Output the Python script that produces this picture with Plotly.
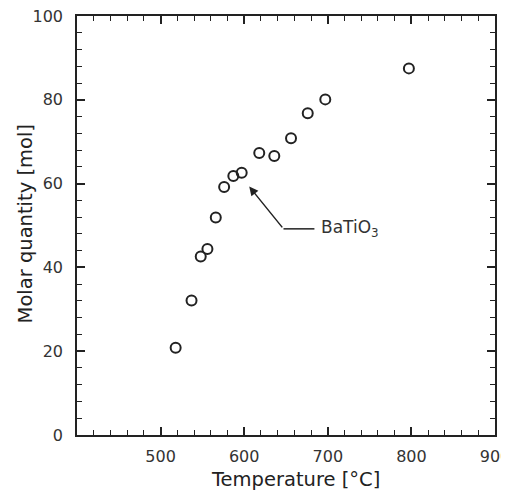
import plotly.graph_objects as go

temperature = [518, 537, 548, 556, 566, 576, 587, 597, 618, 636, 656, 676, 697, 797]
molar_quantity = [20.8, 32.1, 42.6, 44.4, 51.9, 59.2, 61.8, 62.6, 67.3, 66.6, 70.8, 76.8, 80.1, 87.5]
x_ticks = [500, 600, 700, 800, 900]
y_ticks = [0, 20, 40, 60, 80, 100]
x_title = "Temperature [°C]"
y_title = "Molar quantity [mol]"

FONT = "DejaVu Sans"

fig = go.Figure()
fig.add_trace(go.Scatter(
    x=temperature, y=molar_quantity, mode="markers",
    marker=dict(symbol="circle-open", size=10, color="#222", line=dict(width=2)),
    showlegend=False,
))

axis_common = dict(
    showline=True, linecolor="#222", linewidth=1.6, mirror="allticks",
    ticks="inside", ticklen=8, tickwidth=1.5, tickcolor="#222",
    showgrid=False, zeroline=False, automargin=False, ticklabeloverflow="allow",
    tickfont=dict(family=FONT, size=16, color="#333"),
)

fig.update_xaxes(
    range=[400, 900], tickvals=x_ticks, ticklabelstandoff=6,
    minor=dict(dtick=20, tick0=400, ticks="inside", ticklen=5, tickwidth=1.3, tickcolor="#222", showgrid=False),
    **axis_common,
)
fig.update_yaxes(
    range=[0, 100], tickvals=y_ticks, ticklabelstandoff=9,
    minor=dict(dtick=4, tick0=0, ticks="inside", ticklen=5, tickwidth=1.3, tickcolor="#222", showgrid=False),
    **axis_common,
)

# axis titles
fig.add_annotation(text=x_title, xref="paper", yref="paper", x=0.522, y=-0.107,
                   xanchor="center", yanchor="middle", showarrow=False,
                   font=dict(family=FONT, size=19.5, color="#222"))
fig.add_annotation(text=y_title, xref="paper", yref="paper", x=-0.124, y=0.503,
                   xanchor="center", yanchor="middle", textangle=-90, showarrow=False,
                   font=dict(family=FONT, size=19.5, color="#222"))

# bent leader: horizontal segment plus arrow
fig.add_shape(type="line", x0=647, y0=49.2, x1=684, y1=49.2,
              line=dict(color="#222", width=1.5), xref="x", yref="y")
fig.add_annotation(x=606, y=59.3, ax=647, ay=49.2, axref="x", ayref="y",
                   text="", showarrow=True, arrowhead=2, arrowsize=1.2, arrowwidth=1.5, arrowcolor="#222")
fig.add_annotation(x=689, y=49.2, text="BaTiO<sub>3</sub>", showarrow=False, xanchor="left",
                   font=dict(family=FONT, size=17, color="#333"))

# page body adds an 8px offset, so the figure is sized to the remaining window
fig.update_layout(
    width=501, height=483,
    margin=dict(l=69, r=14, t=8, b=56),
    paper_bgcolor="white", plot_bgcolor="white",
)

fig.write_html("out.html")
